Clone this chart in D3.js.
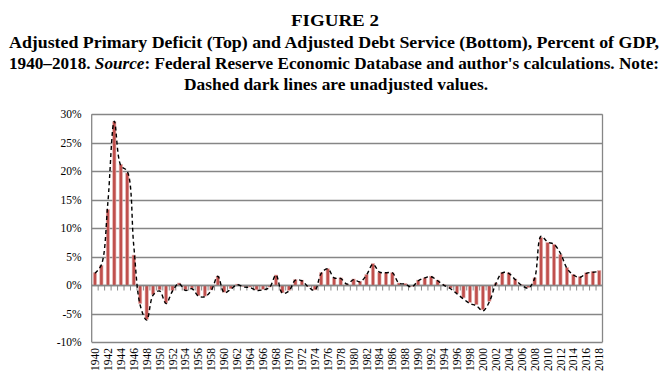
<!DOCTYPE html>
<html>
<head>
<meta charset="utf-8">
<script src="https://cdn.jsdelivr.net/npm/d3@7"></script>
<style>
  body { margin: 0; background: #fff; }
  svg { font-family: "Liberation Serif", "Times New Roman", serif; }
</style>
</head>
<body>
<div id="chart"></div>
<script>
// years 1940..2018
var years = d3.range(1940, 2019);

// adjusted primary deficit, % of GDP (bars)
var adjusted = [
  2.2, 3.5, 13.3, 28.7, 21.2, 19.7, 5.3, -3.2, -6.0, -1.6,
  -0.8, -3.1, -0.9, 0.4, -0.8, -0.5, -1.8, -1.9, -0.8, 1.6,
  -1.2, -0.6, 0.2, -0.2, -0.3, -0.8, -0.7, -0.3, 1.8, -1.3,
  -0.9, 1.0, 0.9, -0.2, -0.8, 2.2, 2.9, 1.3, 1.3, 0.2,
  1.1, 0.7, 1.9, 3.8, 2.3, 2.2, 2.2, 0.4, 0.3, -0.2,
  0.9, 1.3, 1.6, 0.9, 0.1, -0.5, -1.4, -2.2, -3.0, -3.4,
  -4.3, -2.8, 0.4, 2.2, 2.2, 1.1, 0.1, -0.4, 1.3, 8.4,
  7.5, 7.2, 5.4, 3.1, 1.9, 1.5, 2.2, 2.4, 2.6
];

// unadjusted values (dashed line)
var unadjusted = [
  2.1, 3.6, 14.5, 28.8, 21.0, 20.0, 7.0, -3.5, -6.1, -1.7,
  -1.0, -3.2, -1.0, 0.3, -0.9, -0.6, -1.9, -2.0, -0.9, 1.6,
  -1.3, -0.7, 0.1, -0.3, -0.4, -0.9, -0.8, -0.4, 1.8, -1.4,
  -1.0, 0.9, 0.8, -0.3, -0.9, 2.1, 2.9, 1.3, 1.2, 0.2,
  1.0, 0.6, 1.8, 3.7, 2.3, 2.2, 2.2, 0.4, 0.2, -0.3,
  0.8, 1.3, 1.5, 0.8, 0.0, -0.6, -1.5, -2.4, -3.2, -3.6,
  -4.5, -2.9, 0.3, 2.2, 2.1, 1.0, 0.0, -0.5, 1.2, 8.6,
  7.6, 7.2, 5.6, 3.0, 1.8, 1.4, 2.1, 2.3, 2.4
];

var yTicks = [-0.10, -0.05, 0, 0.05, 0.10, 0.15, 0.20, 0.25, 0.30];

var titleLines = [
  "Adjusted Primary Deficit (Top) and Adjusted Debt Service (Bottom), Percent of GDP,",
  "1940\u20132018.",
  "Dashed dark lines are unadjusted values."
];

var data = years.map(function(y, i) {
  return {year: y, adj: adjusted[i] / 100, unadj: unadjusted[i] / 100};
});

var width = 672, height = 386;
var plot = {left: 91.7, right: 602.5, top: 114.3, bottom: 342.3};

var svg = d3.select("#chart").append("svg")
  .attr("width", width)
  .attr("height", height);

// title block, stretched to the widths of the original caption
var title = svg.append("g")
  .attr("text-anchor", "middle")
  .style("font-weight", "bold")
  .style("font-size", "17px")
  .attr("fill", "#000");

title.append("text").attr("x", 335).attr("y", 26)
  .attr("textLength", 88).attr("lengthAdjust", "spacingAndGlyphs")
  .text("FIGURE 2");
title.append("text").attr("x", 334).attr("y", 48)
  .attr("textLength", 650).attr("lengthAdjust", "spacingAndGlyphs")
  .text(titleLines[0]);
var t3 = title.append("text").attr("x", 334).attr("y", 69)
  .attr("textLength", 650).attr("lengthAdjust", "spacingAndGlyphs");
t3.append("tspan").text(titleLines[1] + " ");
t3.append("tspan").style("font-style", "italic").text("Source");
t3.append("tspan").text(": Federal Reserve Economic Database and author's calculations. Note:");
title.append("text").attr("x", 336).attr("y", 90)
  .attr("textLength", 304).attr("lengthAdjust", "spacingAndGlyphs")
  .text(titleLines[2]);

var x = d3.scaleBand()
  .domain(years)
  .range([plot.left, plot.right])
  .paddingInner(0)
  .paddingOuter(0);

var y = d3.scaleLinear()
  .domain([-0.10, 0.30])
  .range([plot.bottom, plot.top]);

// grid lines
svg.append("g")
  .selectAll("line")
  .data(yTicks)
  .enter()
  .append("line")
  .attr("x1", plot.left)
  .attr("x2", plot.right)
  .attr("y1", function(d) { return Math.round(y(d)) + 0.5; })
  .attr("y2", function(d) { return Math.round(y(d)) + 0.5; })
  .attr("stroke", "#868686")
  .attr("stroke-width", 1.3);

// plot frame sides
svg.append("line")
  .attr("x1", plot.left).attr("x2", plot.left)
  .attr("y1", y(0.30)).attr("y2", y(-0.10))
  .attr("stroke", "#868686").attr("stroke-width", 1.3);
svg.append("line")
  .attr("x1", plot.right).attr("x2", plot.right)
  .attr("y1", y(0.30)).attr("y2", y(-0.10))
  .attr("stroke", "#868686").attr("stroke-width", 1.3);

// y labels
svg.append("g")
  .selectAll("text")
  .data(yTicks)
  .enter()
  .append("text")
  .attr("x", plot.left - 10)
  .attr("y", function(d) { return y(d); })
  .attr("dy", "0.35em")
  .attr("text-anchor", "end")
  .style("font-size", "11.5px")
  .attr("fill", "#000")
  .text(function(d) { return Math.round(d * 100) + "%"; });

// bars
var bw = x.bandwidth() * 0.5;
svg.append("g")
  .selectAll("rect")
  .data(data)
  .enter()
  .append("rect")
  .attr("x", function(d) { return x(d.year) + (x.bandwidth() - bw) / 2; })
  .attr("width", bw)
  .attr("y", function(d) { return Math.min(y(d.adj), y(0)); })
  .attr("height", function(d) { return Math.abs(y(d.adj) - y(0)); })
  .attr("fill", "#c0504d")
  .attr("stroke", "#e6b3b2")
  .attr("stroke-width", 0.6);

// x axis at zero with ticks between categories
var zeroY = Math.round(y(0)) + 0.5;
svg.append("line")
  .attr("x1", plot.left).attr("x2", plot.right)
  .attr("y1", zeroY).attr("y2", zeroY)
  .attr("stroke", "#868686").attr("stroke-width", 1.3);
svg.append("g")
  .selectAll("line")
  .data(years)
  .enter()
  .append("line")
  .attr("x1", function(d) { return x(d) + x.bandwidth(); })
  .attr("x2", function(d) { return x(d) + x.bandwidth(); })
  .attr("y1", zeroY)
  .attr("y2", zeroY + 5)
  .attr("stroke", "#868686")
  .attr("stroke-width", 1);

// dashed unadjusted line
var line = d3.line()
  .x(function(d) { return x(d.year) + x.bandwidth() / 2; })
  .y(function(d) { return y(d.unadj); })
  .curve(d3.curveCatmullRom);

svg.append("path")
  .datum(data)
  .attr("d", line)
  .attr("fill", "none")
  .attr("stroke", "#000")
  .attr("stroke-width", 1.4)
  .attr("stroke-dasharray", "4,3");

// x labels, every other year
svg.append("g")
  .selectAll("text")
  .data(years.filter(function(d) { return d % 2 === 0; }))
  .enter()
  .append("text")
  .attr("transform", function(d) {
    return "translate(" + (x(d) + x.bandwidth() / 2) + "," + 348 + ") rotate(-90)";
  })
  .attr("dy", "0.35em")
  .attr("text-anchor", "end")
  .style("font-size", "11.5px")
  .attr("fill", "#000")
  .text(function(d) { return d; });
</script>
</body>
</html>
